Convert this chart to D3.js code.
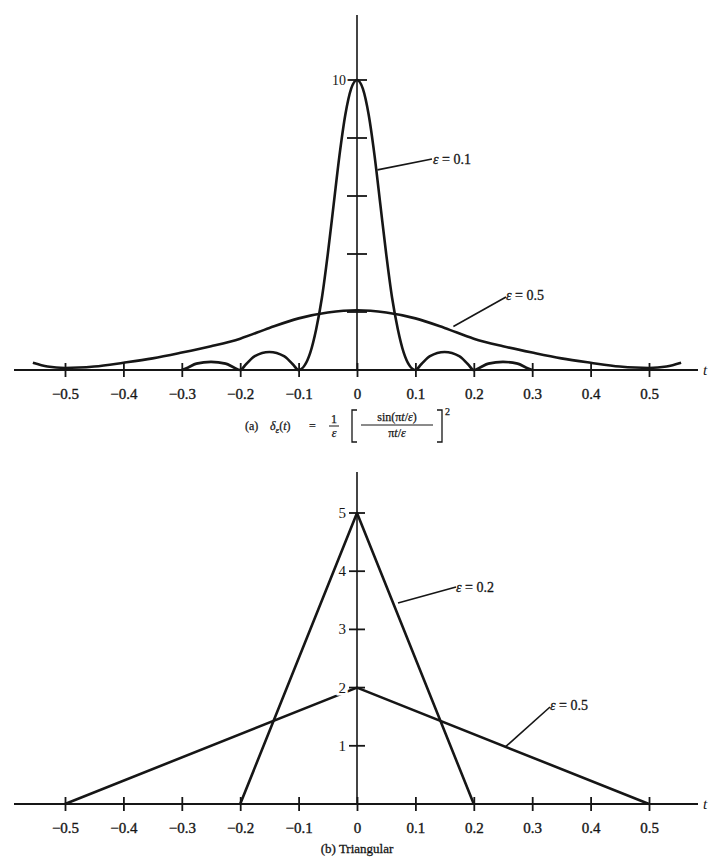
<!DOCTYPE html>
<html>
<head>
<meta charset="utf-8">
<script src="https://cdn.jsdelivr.net/npm/d3@7"></script>
<style>
  body { margin: 0; background: #fff; }
  svg text { font-family: "Liberation Serif", "DejaVu Serif", serif; fill: #161616; }
</style>
</head>
<body>
<svg id="fig" width="710" height="863"></svg>
<script>
// tick values and labels shared by both panels
var xTicks = [-0.5, -0.4, -0.3, -0.2, -0.1, 0, 0.1, 0.2, 0.3, 0.4, 0.5];
var xTickLabels = ["\u22120.5", "\u22120.4", "\u22120.3", "\u22120.2", "\u22120.1", "0", "0.1", "0.2", "0.3", "0.4", "0.5"];

var topYTicks = [2, 4, 6, 8, 10];
var topYTickLabels = ["", "", "", "", "10"];
var bottomYTicks = [1, 2, 3, 4, 5];
var bottomYTickLabels = ["1", "2", "3", "4", "5"];

// (a) sinc^2 pulse, eps = 0.1
var narrowT = [-0.3, -0.29, -0.275, -0.25, -0.225, -0.21, -0.2, -0.19, -0.175, -0.15, -0.125, -0.11, -0.1,
  -0.09, -0.08, -0.07, -0.06, -0.05, -0.04, -0.03, -0.02, -0.01, 0,
  0.01, 0.02, 0.03, 0.04, 0.05, 0.06, 0.07, 0.08, 0.09,
  0.1, 0.11, 0.125, 0.15, 0.175, 0.19, 0.2, 0.21, 0.225, 0.25, 0.275, 0.29, 0.3];
var narrowV = [0, 0.08, 0.22, 0.28, 0.22, 0.08, 0, 0.2, 0.48, 0.62, 0.48, 0.2, 0,
  0.15, 0.6, 1.4, 2.5, 4.0, 5.7, 7.4, 8.8, 9.7, 10,
  9.7, 8.8, 7.4, 5.7, 4.0, 2.5, 1.4, 0.6, 0.15,
  0, 0.2, 0.48, 0.62, 0.48, 0.2, 0, 0.08, 0.22, 0.28, 0.22, 0.08, 0];

// (a) sinc^2 pulse, eps = 0.5
var wideT = [-0.555, -0.53, -0.5, -0.45, -0.4, -0.35, -0.3, -0.25, -0.2, -0.15, -0.1, -0.05, 0,
  0.05, 0.1, 0.15, 0.2, 0.25, 0.3, 0.35, 0.4, 0.45, 0.5, 0.53, 0.555];
var wideV = [0.25, 0.12, 0.07, 0.12, 0.25, 0.4, 0.6, 0.82, 1.08, 1.45, 1.78, 1.98, 2.06,
  1.98, 1.78, 1.45, 1.08, 0.82, 0.6, 0.4, 0.25, 0.12, 0.07, 0.12, 0.25];

// (b) triangular pulses
var tri02T = [-0.2, 0, 0.2];
var tri02V = [0, 5, 0];
var tri05T = [-0.5, 0, 0.5];
var tri05V = [0, 2, 0];

var svg = d3.select("#fig");
var INK = "#161616";

var x = d3.scaleLinear().domain([-0.5, 0.5]).range([65, 649]);
var yTop = d3.scaleLinear().domain([0, 10]).range([370, 80]);
var yBot = d3.scaleLinear().domain([0, 5]).range([804, 513]);

function zip(ts, vs) {
    return ts.map(function(t, i) { return [t, vs[i]]; });
}

function drawPanel(y, axisY, topY, yTicks, tickHalf) {
    var g = svg.append("g");

    // horizontal axis, ticks cross the line
    g.append("line")
        .attr("x1", 14).attr("x2", 698)
        .attr("y1", axisY).attr("y2", axisY)
        .style("stroke", INK).style("stroke-width", 2);

    var xAxis = d3.axisBottom(x)
        .tickValues(xTicks)
        .tickFormat(function(d, i) { return xTickLabels[i]; })
        .tickSize(7);

    var ax = g.append("g")
        .attr("transform", "translate(0," + axisY + ")")
        .call(xAxis);
    ax.select(".domain").remove();
    ax.selectAll(".tick line")
        .attr("y1", -7).attr("y2", 7)
        .style("stroke", INK).style("stroke-width", 1.8);
    ax.selectAll(".tick text")
        .attr("y", 18).attr("dy", "0.71em")
        .style("font-size", "15px")
        .style("font-family", "Liberation Serif, serif")
        .style("fill", INK)
        .style("stroke", INK).style("stroke-width", 0.35);

    g.append("text")
        .attr("x", 703).attr("y", axisY + 5)
        .style("font-size", "15px").style("font-style", "italic")
        .text("t");

    // vertical axis
    g.append("line")
        .attr("x1", x(0)).attr("x2", x(0))
        .attr("y1", topY).attr("y2", axisY)
        .style("stroke", INK).style("stroke-width", 1.6);

    g.selectAll(".ytick").data(yTicks).enter().append("line")
        .attr("x1", x(0) - tickHalf).attr("x2", x(0) + tickHalf)
        .attr("y1", function(d) { return y(d); })
        .attr("y2", function(d) { return y(d); })
        .style("stroke", INK).style("stroke-width", 1.8);

    return g;
}

var smooth = function(y) {
    return d3.line()
        .x(function(d) { return x(d[0]); })
        .y(function(d) { return y(d[1]); })
        .curve(d3.curveMonotoneX);
};

// labels with leader lines
function leader(g, x1, y1, x2, y2, lx, ly, txt) {
    g.append("line")
        .attr("x1", x1).attr("y1", y1).attr("x2", x2).attr("y2", y2)
        .style("stroke", INK).style("stroke-width", 1.6);
    var t = g.append("text").attr("x", lx).attr("y", ly)
        .style("font-size", "14px")
        .style("stroke", INK).style("stroke-width", 0.3);
    t.append("tspan").style("font-style", "italic").text("\u03b5");
    t.append("tspan").text(" = " + txt);
}

// ---------- panel (a)
var gA = drawPanel(yTop, 370, 15, topYTicks, 10);

gA.append("path")
    .datum(zip(wideT, wideV))
    .attr("d", smooth(yTop))
    .style("fill", "none").style("stroke", INK).style("stroke-width", 2.6);

gA.append("path")
    .datum(zip(narrowT, narrowV))
    .attr("d", smooth(yTop))
    .style("fill", "none").style("stroke", INK).style("stroke-width", 2.6);

gA.selectAll(".ylab").data(topYTicks).enter().append("text")
    .attr("x", x(0) - 11)
    .attr("y", function(d) { return yTop(d) + 5; })
    .attr("text-anchor", "end")
    .style("font-size", "14px")
    .style("paint-order", "stroke").style("stroke", "#fff").style("stroke-width", 4)
    .text(function(d, i) { return topYTickLabels[i]; });

leader(gA, x(0.035), yTop(6.9), 432, 159, 433, 164, "0.1");
leader(gA, x(0.165), yTop(1.5), 506, 297, 506, 300, "0.5");

// caption (a)
var cap = gA.append("g").style("font-size", "12px");
cap.append("text").attr("x", 245).attr("y", 430).text("(a)");
var dl = cap.append("text").attr("x", 270).attr("y", 430);
dl.append("tspan").style("font-style", "italic").text("\u03b4");
dl.append("tspan").attr("dy", 3).style("font-size", "9px").style("font-style", "italic").text("\u03b5");
dl.append("tspan").attr("dy", -3).text("(");
dl.append("tspan").style("font-style", "italic").text("t");
dl.append("tspan").text(")");
cap.append("text").attr("x", 309).attr("y", 430).text("=");
cap.append("text").attr("x", 334).attr("y", 423).attr("text-anchor", "middle").text("1");
cap.append("line").attr("x1", 329).attr("x2", 339).attr("y1", 426).attr("y2", 426)
    .style("stroke", INK).style("stroke-width", 1);
cap.append("text").attr("x", 334).attr("y", 437).attr("text-anchor", "middle")
    .style("font-style", "italic").text("\u03b5");
cap.append("path").attr("d", "M357,410H352V442H357")
    .style("fill", "none").style("stroke", INK).style("stroke-width", 1.3);
cap.append("path").attr("d", "M437,410H442V442H437")
    .style("fill", "none").style("stroke", INK).style("stroke-width", 1.3);
var num = cap.append("text").attr("x", 397).attr("y", 421).attr("text-anchor", "middle");
num.append("tspan").text("sin(\u03c0");
num.append("tspan").style("font-style", "italic").text("t");
num.append("tspan").text("/");
num.append("tspan").style("font-style", "italic").text("\u03b5");
num.append("tspan").text(")");
cap.append("line").attr("x1", 361).attr("x2", 433).attr("y1", 425).attr("y2", 425)
    .style("stroke", INK).style("stroke-width", 1);
var den = cap.append("text").attr("x", 397).attr("y", 437).attr("text-anchor", "middle");
den.append("tspan").text("\u03c0");
den.append("tspan").style("font-style", "italic").text("t");
den.append("tspan").text("/");
den.append("tspan").style("font-style", "italic").text("\u03b5");
cap.append("text").attr("x", 445).attr("y", 415).style("font-size", "10px").text("2");
cap.selectAll("text").style("stroke", INK).style("stroke-width", 0.25);

// ---------- panel (b)
var gB = drawPanel(yBot, 804, 472, bottomYTicks, 8);

var straight = d3.line()
    .x(function(d) { return x(d[0]); })
    .y(function(d) { return yBot(d[1]); });

gB.append("path")
    .datum(zip(tri05T, tri05V))
    .attr("d", straight)
    .style("fill", "none").style("stroke", INK).style("stroke-width", 2.6)
    .style("stroke-linejoin", "round");

gB.append("path")
    .datum(zip(tri02T, tri02V))
    .attr("d", straight)
    .style("fill", "none").style("stroke", INK).style("stroke-width", 2.6)
    .style("stroke-linejoin", "round");

gB.selectAll(".ylab").data(bottomYTicks).enter().append("text")
    .attr("x", x(0) - 11)
    .attr("y", function(d) { return yBot(d) + 5; })
    .attr("text-anchor", "end")
    .style("font-size", "15px")
    .style("paint-order", "stroke").style("stroke", "#fff").style("stroke-width", 5)
    .text(function(d, i) { return bottomYTickLabels[i]; });

leader(gB, 398, 603, 456, 587, 456, 592, "0.2");
leader(gB, x(0.254), yBot(0.98), 550, 707, 550, 710, "0.5");

gB.append("text")
    .attr("x", x(0)).attr("y", 853)
    .attr("text-anchor", "middle")
    .style("font-size", "13px")
    .style("stroke", INK).style("stroke-width", 0.3)
    .text("(b)  Triangular");
</script>
</body>
</html>
